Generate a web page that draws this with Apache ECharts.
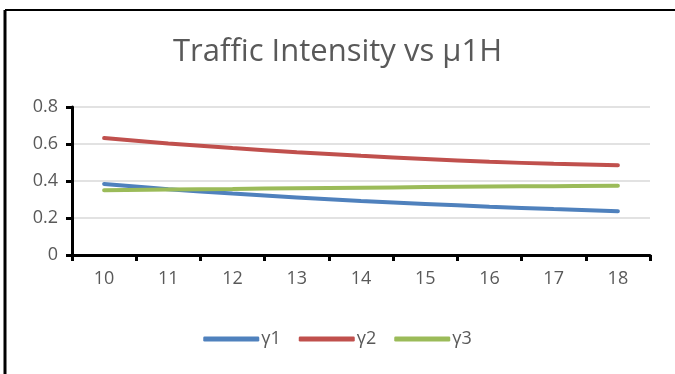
<!DOCTYPE html>
<html>
<head>
<meta charset="utf-8">
<script src="https://cdn.jsdelivr.net/npm/echarts@6/dist/echarts.min.js"></script>
<style>
html,body{margin:0;padding:0;background:#fff;}
#chart{width:675px;height:374px;}
</style>
</head>
<body>
<div id="chart"></div>
<script>
// μ1H values on the category axis
const categories = ['10', '11', '12', '13', '14', '15', '16', '17', '18'];
// traffic intensity per class
const gamma1 = [0.384, 0.356, 0.332, 0.311, 0.292, 0.276, 0.261, 0.248, 0.237];
const gamma2 = [0.632, 0.603, 0.578, 0.556, 0.536, 0.519, 0.504, 0.493, 0.485];
const gamma3 = [0.350, 0.354, 0.357, 0.361, 0.364, 0.367, 0.370, 0.372, 0.374];
const seriesNames = ['γ1', 'γ2', 'γ3'];
const colors = ['#4F81BD', '#C0504D', '#9BBB59'];

const FONT = "'Open Sans', 'Liberation Sans', sans-serif";
const TEXT = '#595959';

const chart = echarts.init(document.getElementById('chart'), null, { renderer: 'canvas' });

function line(name, data, color) {
  return {
    name, type: 'line', data, smooth: 0.4, showSymbol: false, symbol: 'none',
    lineStyle: { width: 4, color, cap: 'round' },
    itemStyle: { color },
    emphasis: { disabled: true },
    z: 3
  };
}

chart.setOption({
  animation: false,
  backgroundColor: '#fff',
  color: colors,
  title: {
    text: 'Traffic Intensity vs µ1H',
    left: 'center', top: 32,
    textStyle: { fontFamily: FONT, fontSize: 31, fontWeight: 'normal', color: TEXT }
  },
  legend: {
    bottom: 21, left: 'center',
    icon: 'roundRect',
    itemWidth: 56, itemHeight: 5, itemGap: 18,
    textStyle: { fontFamily: FONT, fontSize: 18, color: TEXT, padding: [0, 0, 0, -3] },
    data: seriesNames
  },
  grid: { left: 72, right: 25, top: 107, bottom: 119, containLabel: false },
  xAxis: {
    type: 'category', data: categories, boundaryGap: true,
    axisLine: { lineStyle: { color: '#000', width: 3 } },
    axisTick: { show: true, length: 6, lineStyle: { color: '#000', width: 3 }, alignWithLabel: false },
    axisLabel: { fontFamily: FONT, fontSize: 18, color: TEXT, margin: 15 },
    splitLine: { show: false }
  },
  yAxis: {
    type: 'value', min: 0, max: 0.8, interval: 0.2,
    axisLine: { show: true, lineStyle: { color: '#000', width: 3 } },
    axisTick: { show: true, length: 6, lineStyle: { color: '#000', width: 3 } },
    axisLabel: { fontFamily: FONT, fontSize: 18, color: TEXT, margin: 14,
      formatter: v => v === 0 ? '0' : v.toFixed(1) },
    splitLine: { lineStyle: { color: '#D9D9D9', width: 1.5 } }
  },
  graphic: [
    { type: 'line', shape: { x1: 5, y1: 10, x2: 675, y2: 10 }, style: { stroke: '#000', lineWidth: 2 } },
    { type: 'line', shape: { x1: 5, y1: 10, x2: 5, y2: 374 }, style: { stroke: '#000', lineWidth: 3 } }
  ],
  series: [
    line(seriesNames[0], gamma1, colors[0]),
    line(seriesNames[1], gamma2, colors[1]),
    line(seriesNames[2], gamma3, colors[2])
  ]
});
</script>
</body>
</html>
